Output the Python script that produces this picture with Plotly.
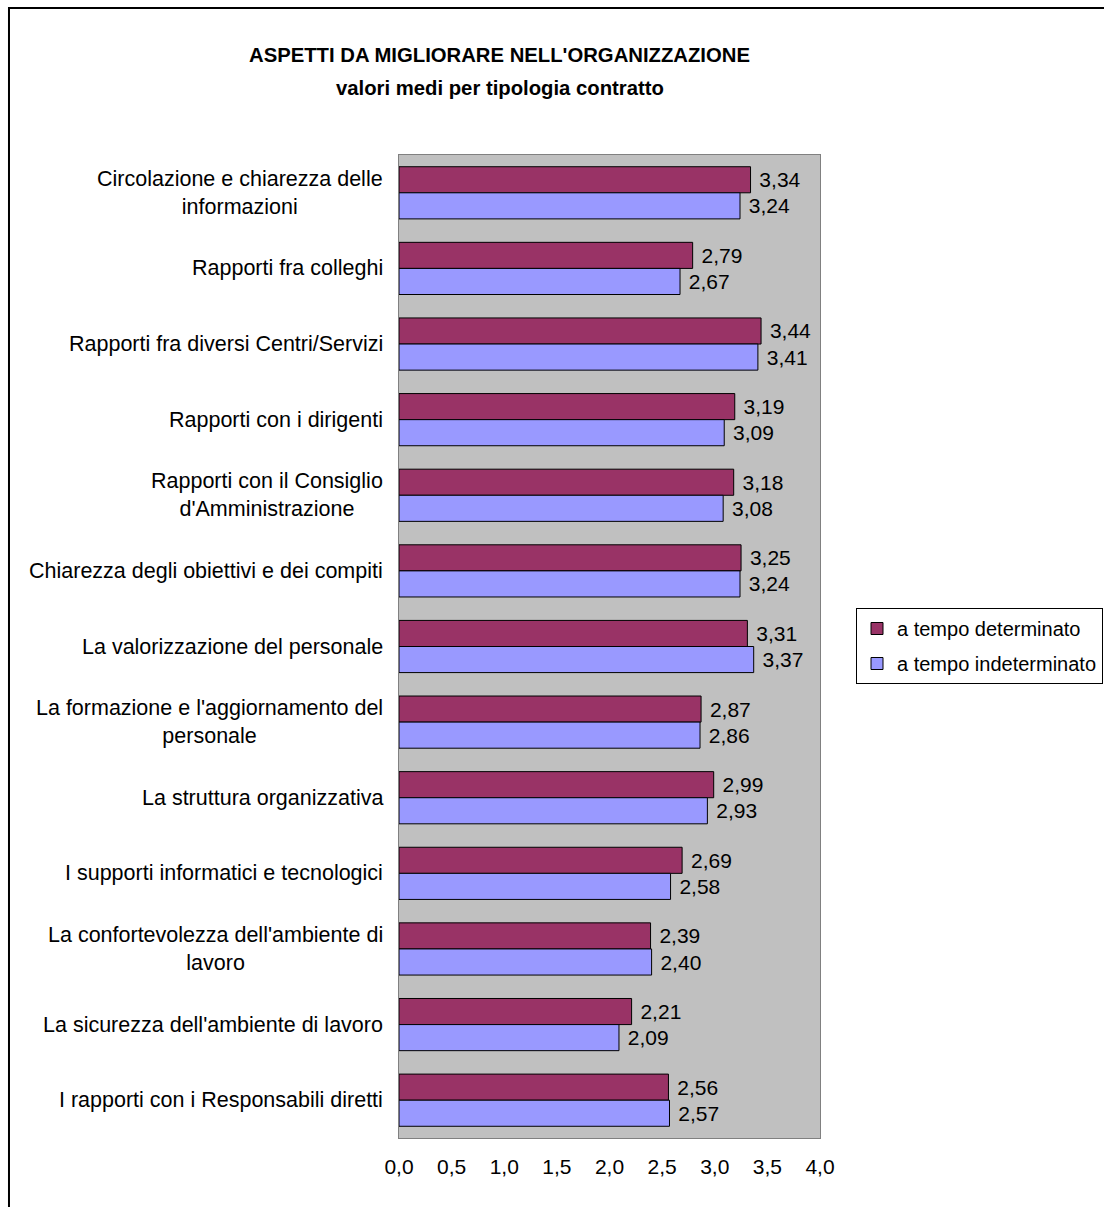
import plotly.graph_objects as go

# Survey categories (top to bottom) and mean scores per contract type
categories = [
    "Circolazione e chiarezza delle<br>informazioni",
    "Rapporti fra colleghi",
    "Rapporti fra diversi Centri/Servizi",
    "Rapporti con i dirigenti",
    "Rapporti con il Consiglio<br>d'Amministrazione",
    "Chiarezza degli obiettivi e dei compiti",
    "La valorizzazione del personale",
    "La formazione e l'aggiornamento del<br>personale",
    "La struttura organizzativa",
    "I supporti informatici e tecnologici",
    "La confortevolezza dell'ambiente di<br>lavoro",
    "La sicurezza dell'ambiente di lavoro",
    "I rapporti con i Responsabili diretti",
]
determinato = [3.34, 2.79, 3.44, 3.19, 3.18, 3.25, 3.31, 2.87, 2.99, 2.69, 2.39, 2.21, 2.56]
indeterminato = [3.24, 2.67, 3.41, 3.09, 3.08, 3.24, 3.37, 2.86, 2.93, 2.58, 2.40, 2.09, 2.57]
series_names = ["a tempo determinato", "a tempo indeterminato"]
x_ticks = [0, 0.5, 1.0, 1.5, 2.0, 2.5, 3.0, 3.5, 4.0]
title_lines = ["ASPETTI DA MIGLIORARE NELL'ORGANIZZAZIONE", "valori medi per tipologia contratto"]

FONT = "Liberation Sans, Arial, sans-serif"
FS = 21

fig = go.Figure()
for name, vals, color in [
    (series_names[0], determinato, "#993366"),
    (series_names[1], indeterminato, "#9999FF"),
]:
    fig.add_trace(go.Bar(
        name=name,
        legendgroup=name,
        y=categories,
        x=vals,
        orientation="h",
        marker=dict(color=color, line=dict(color="black", width=1)),
        texttemplate="\u00a0%{x:.2f}",
        textposition="outside",
        constraintext="none",
        cliponaxis=False,
        textfont=dict(family=FONT, size=FS, color="black"),
        hoverinfo="skip",
    ))

# Category labels: right-aligned to the plot edge, lines centred within each label
annotations = []
for cat in categories:
    annotations.append(dict(
        x=0, xref="paper", y=cat, yref="y",
        text=cat, showarrow=False, align="center",
        xanchor="right", yanchor="middle", xshift=-14,
        font=dict(family=FONT, size=21.5, color="black"),
    ))

for line, ypos in zip(title_lines, [1.1017, 1.0682]):
    annotations.append(dict(
        x=0.2399, xref="paper", y=ypos, yref="paper", text=f"<b>{line}</b>",
        showarrow=False, xanchor="center", yanchor="middle",
        font=dict(family=FONT, size=20.3, color="black"),
    ))

fig.update_layout(
    width=1104, height=1207,
    margin=dict(l=399, r=284, t=155, b=69),
    paper_bgcolor="white",
    plot_bgcolor="#C0C0C0",
    separators=",.",
    barmode="group",
    bargap=0.31,
    bargroupgap=0,
    font=dict(family=FONT, size=FS, color="black"),
    showlegend=True,
    legend=dict(
        xref="container", yref="container",
        x=1103 / 1104, y=1 - 608 / 1207, xanchor="right", yanchor="top",
        bordercolor="black", borderwidth=1, bgcolor="white",
        traceorder="grouped", tracegroupgap=6,
        font=dict(family=FONT, size=20, color="black"),
    ),
    annotations=annotations,
    shapes=[dict(
        type="rect", xref="paper", yref="paper",
        x0=-0.9264, x1=1.8, y0=-0.2, y1=1.1495,
        line=dict(color="black", width=2), fillcolor="rgba(0,0,0,0)",
        layer="above",
    )],
)

fig.update_xaxes(
    range=[0, 4], tickvals=x_ticks, tickformat=".1f",
    showgrid=False, zeroline=False, ticks="",
    showline=True, linecolor="#808080", linewidth=1, mirror=True,
    ticklabelstandoff=10,
    tickfont=dict(family=FONT, size=FS, color="black"),
)
fig.update_yaxes(
    categoryorder="array", categoryarray=categories, autorange="reversed",
    showticklabels=False, showgrid=False, zeroline=False, ticks="",
    showline=True, linecolor="#808080", linewidth=1, mirror=True,
)

fig.write_html("out.html")
